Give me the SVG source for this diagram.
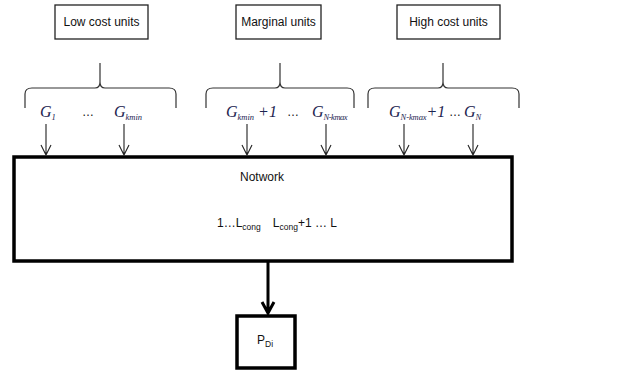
<svg xmlns="http://www.w3.org/2000/svg" width="621" height="371" viewBox="0 0 621 371">
<style>
.box{fill:#fff;stroke:#222;stroke-width:1.3}
.thick{fill:#fff;stroke:#000;stroke-width:3.5}
.lbl{font-family:"Liberation Sans",Arial,sans-serif;font-size:12px;fill:#111}
.g{font-family:"Liberation Serif","Times New Roman",serif;font-style:italic;font-size:16px;fill:#1c2350}
.gs{font-size:8.5px}
.brace{fill:none;stroke:#333;stroke-width:1.2}
.arr{stroke:#222;stroke-width:1.1;fill:none}
</style>

<g id="low-cost">
<rect class="box" x="55" y="5" width="93" height="34"/>
<text class="lbl" x="101.5" y="26" text-anchor="middle">Low cost units</text>
</g>
<g id="marginal">
<rect class="box" x="236" y="5" width="85" height="34"/>
<text class="lbl" x="278.5" y="26" text-anchor="middle">Marginal units</text>
</g>
<g id="high-cost">
<rect class="box" x="397" y="5" width="103" height="34"/>
<text class="lbl" x="448.5" y="26" text-anchor="middle">High cost units</text>
</g>

<g id="braces">
<path class="brace" d="M25,108 V94 Q25,88 32,88 H95 Q100,88 100,82 V63 M100,82 Q100,88 105,88 H169 Q176,88 176,94 V108"/>
<path class="brace" d="M206,108 V94 Q206,88 213,88 H275 Q280,88 280,82 V63 M280,82 Q280,88 285,88 H347 Q354,88 354,94 V108"/>
<path class="brace" d="M368,108 V94 Q368,88 375,88 H438 Q443,88 443,82 V63 M443,82 Q443,88 448,88 H512 Q519,88 519,94 V108"/>
</g>

<g id="gen-labels">
<text class="g" x="40" y="117">G<tspan class="gs" dy="3">1</tspan></text>
<text class="lbl" x="82" y="116">…</text>
<text class="g" x="114" y="117">G<tspan class="gs" dy="3">kmin</tspan></text>
<text class="g" x="226" y="117">G<tspan class="gs" dy="3">kmin</tspan><tspan dy="-3"> +1</tspan></text>
<text class="lbl" x="287" y="116">…</text>
<text class="g" x="312" y="117">G<tspan class="gs" dy="3" textLength="24">N-kmax</tspan></text>
<text class="g" x="389" y="117">G<tspan class="gs" dy="3" textLength="26">N-kmax</tspan><tspan dy="-3">+1</tspan></text>
<text class="lbl" x="449" y="116">…</text>
<text class="g" x="464" y="117">G<tspan class="gs" dy="3">N</tspan></text>
</g>

<g id="network">
<rect class="thick" x="14" y="157" width="498" height="104"/>
<text class="lbl" x="262" y="181" text-anchor="middle">Notwork</text>
<text class="lbl" x="217" y="227">1…L<tspan font-size="8.5" dy="3">cong</tspan><tspan dy="-3" dx="12">L</tspan><tspan font-size="8.5" dy="3">cong</tspan><tspan dy="-3">+1 … L</tspan></text>
</g>

<g id="pdi">
<rect class="thick" x="237" y="316" width="58" height="52"/>
<text class="lbl" x="257" y="344">P<tspan font-size="8.5" dy="3">Di</tspan></text>
</g>

<g id="connectors">
<g class="arr">
<path d="M46,124 V155 M41,145 L46,155 L51,145"/>
<path d="M124,124 V155 M119,145 L124,155 L129,145"/>
<path d="M247,124 V155 M242,145 L247,155 L252,145"/>
<path d="M326,124 V155 M321,145 L326,155 L331,145"/>
<path d="M404,124 V155 M399,145 L404,155 L409,145"/>
<path d="M473,124 V155 M468,145 L473,155 L478,145"/>
</g>
<path d="M268,262 V312 M262,302 L268,313 L274,302" fill="none" stroke="#000" stroke-width="3"/>
</g>
</svg>
